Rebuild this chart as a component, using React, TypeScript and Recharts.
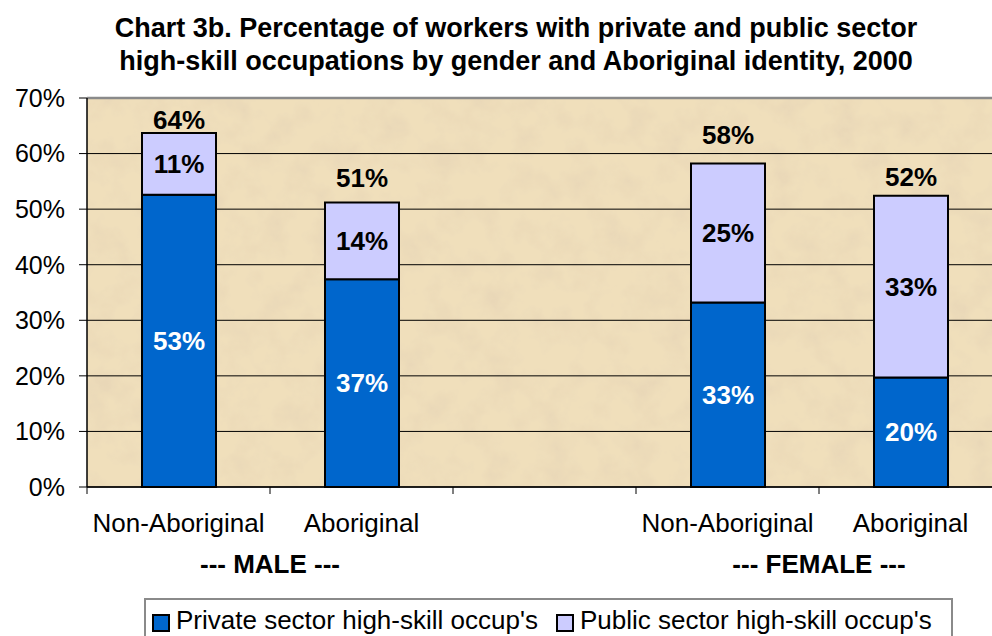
import React from "react";
import { BarChart, Bar, XAxis, YAxis, CartesianGrid, ReferenceLine, LabelList } from "recharts";

const FONT = "'Liberation Sans', Arial, Helvetica, sans-serif";

const titleLines = [
  "Chart 3b. Percentage of workers with private and public sector",
  "high-skill occupations by gender and Aboriginal identity, 2000",
];
const categories = ["Non-Aboriginal", "Aboriginal", "", "Non-Aboriginal", "Aboriginal"];
const privateSector: (number | null)[] = [52.6, 37.4, null, 33.2, 19.7];
const publicSector: (number | null)[] = [11.1, 13.8, null, 25.0, 32.7];
const groupLabels = ["--- MALE ---", "--- FEMALE ---"];
// group labels sit on the boundary between the two categories of each group (index space)
const groupPositions = [0.5, 3.5];
// category boundaries in index space
const boundaryTicks = [-0.5, 0.5, 1.5, 2.5, 3.5, 4.5];
const yTicks = [0, 10, 20, 30, 40, 50, 60, 70];
const seriesNames = ["Private sector high-skill occup's", "Public sector high-skill occup's"];
const seriesColors = ["#0066CC", "#CCCCFF"];

const data = categories.map((name, i) => {
  const p = privateSector[i];
  const q = publicSector[i];
  return {
    name,
    priv: p,
    pub: q,
    total: p == null || q == null ? null : p + q,
  };
});

// gap (px) between the top of each stack and its total label baseline, as placed in the original
const totalLabelGap = [4, 15, 0, 20, 10];

const pct = (v: any) => (v == null || v === "" ? "" : `${Math.round(Number(v))}%`);

const CatTick = (props: any) => {
  const { x, y, payload } = props;
  return (
    <text x={x} y={y} dy={37} textAnchor="middle" fontSize={26} fill="#000" fontFamily={FONT}>
      {payload.value}
    </text>
  );
};

const GroupTick = (props: any) => {
  const { x, y, payload } = props;
  const idx = groupPositions.indexOf(payload.value);
  if (idx < 0) return <g />;
  return (
    <text x={x} y={y} dy={28} textAnchor="middle" fontSize={26} fontWeight="bold" fill="#000" fontFamily={FONT}>
      {groupLabels[idx]}
    </text>
  );
};

const TotalLabel = (props: any) => {
  const { x, y, width, value } = props;
  if (value == null) return null;
  const i = data.findIndex((d) => d.total === value);
  const gap = i >= 0 ? totalLabelGap[i] : 5;
  return (
    <text
      x={Number(x) + Number(width) / 2}
      y={Number(y) - gap}
      textAnchor="middle"
      fontSize={26}
      fontWeight="bold"
      fill="#000"
      fontFamily={FONT}
    >
      {pct(value)}
    </text>
  );
};

export default function App() {
  return (
    <div
      style={{
        position: "absolute",
        left: 0,
        top: 0,
        width: 992,
        height: 636,
        overflow: "hidden",
        background: "#fff",
        fontFamily: FONT,
      }}
    >
      <svg width={0} height={0} style={{ position: "absolute" }}>
        <defs>
          <filter id="paperTex" x="0" y="0" width="100%" height="100%">
            <feTurbulence type="fractalNoise" baseFrequency="0.035" numOctaves={4} seed={7} result="n" />
            <feColorMatrix
              in="n"
              type="matrix"
              values="0 0 0 0 0.80  0 0 0 0 0.67  0 0 0 0 0.47  1.8 0 0 0 -0.78"
              result="spots"
            />
            <feComposite in="spots" in2="SourceGraphic" operator="in" result="clipped" />
            <feMerge>
              <feMergeNode in="SourceGraphic" />
              <feMergeNode in="clipped" />
            </feMerge>
          </filter>
          <pattern id="paper" patternUnits="userSpaceOnUse" x="0" y="0" width="1100" height="600">
            <rect width="1100" height="600" fill="#F0DFBB" filter="url(#paperTex)" />
          </pattern>
        </defs>
      </svg>

      <div
        style={{
          position: "absolute",
          top: 12,
          left: 0,
          width: 1032,
          textAlign: "center",
          fontWeight: "bold",
          fontSize: 27,
          lineHeight: "33px",
          color: "#000",
        }}
      >
        {titleLines.map((t) => (
          <div key={t}>{t}</div>
        ))}
      </div>

      <div style={{ position: "absolute", left: 0, top: 0 }}>
        <BarChart
          width={1010}
          height={636}
          data={data}
          margin={{ top: 98, right: 8, bottom: 46, left: 0 }}
        >
          <CartesianGrid vertical={false} stroke="#000" fill="url(#paper)" fillOpacity={1} />
          <XAxis
            xAxisId={0}
            type="number"
            scale="linear"
            padding={{ left: 91.5, right: 91.5 }}
            ticks={boundaryTicks}
            tickFormatter={() => ""}
            tickSize={7}
            height={8}
            interval={0}
            axisLine={{ stroke: "#000", strokeWidth: 1.5 }}
            tickLine={{ stroke: "#000" }}
          />
          <XAxis
            xAxisId={1}
            dataKey="name"
            type="category"
            axisLine={false}
            tickLine={false}
            tickSize={0}
            tickMargin={0}
            height={50}
            interval={0}
            tick={CatTick}
          />
          <XAxis
            xAxisId={2}
            type="number"
            scale="linear"
            padding={{ left: 91.5, right: 91.5 }}
            ticks={groupPositions}
            axisLine={false}
            tickLine={false}
            tickSize={0}
            tickMargin={0}
            height={45}
            interval={0}
            tick={GroupTick}
          />
          <YAxis
            domain={[0, 70]}
            ticks={yTicks}
            width={87}
            interval={0}
            tickFormatter={(v) => `${v}%`}
            tickSize={8}
            tickMargin={14}
            axisLine={{ stroke: "#000", strokeWidth: 1.5 }}
            tickLine={{ stroke: "#000" }}
            tick={{ fontSize: 25, fill: "#000", fontFamily: FONT }}
          />
          <ReferenceLine y={70} xAxisId={1} stroke="#8a8a8a" strokeWidth={2.5} />
          <Bar
            xAxisId={1}
            dataKey="priv"
            name={seriesNames[0]}
            stackId="a"
            fill={seriesColors[0]}
            stroke="#000"
            strokeWidth={2}
            barSize={74}
            isAnimationActive={false}
          >
            <LabelList
              dataKey="priv"
              position="center"
              formatter={pct}
              fill="#fff"
              stroke="none"
              fontSize={26}
              fontWeight="bold"
              fontFamily={FONT}
            />
          </Bar>
          <Bar
            xAxisId={1}
            dataKey="pub"
            name={seriesNames[1]}
            stackId="a"
            fill={seriesColors[1]}
            stroke="#000"
            strokeWidth={2}
            barSize={74}
            isAnimationActive={false}
          >
            <LabelList
              dataKey="pub"
              position="center"
              formatter={pct}
              fill="#000"
              stroke="none"
              fontSize={26}
              fontWeight="bold"
              fontFamily={FONT}
            />
            <LabelList dataKey="total" content={TotalLabel} />
          </Bar>
        </BarChart>
      </div>

      <div
        style={{
          position: "absolute",
          left: 144,
          top: 598,
          width: 809,
          height: 50,
          boxSizing: "border-box",
          border: "2px solid #8a8a8a",
          background: "#fff",
          display: "flex",
          alignItems: "flex-start",
          paddingLeft: 6,
          paddingTop: 7,
          fontSize: 26,
          lineHeight: "26px",
          color: "#000",
          whiteSpace: "nowrap",
        }}
      >
        {seriesNames.map((n, i) => (
          <div key={n} style={{ display: "flex", alignItems: "flex-start", marginRight: 18 }}>
            <div
              style={{
                width: 14,
                height: 14,
                border: "2px solid #000",
                background: seriesColors[i],
                marginTop: 7,
                marginRight: 6,
              }}
            />
            <span>{n}</span>
          </div>
        ))}
      </div>
    </div>
  );
}
